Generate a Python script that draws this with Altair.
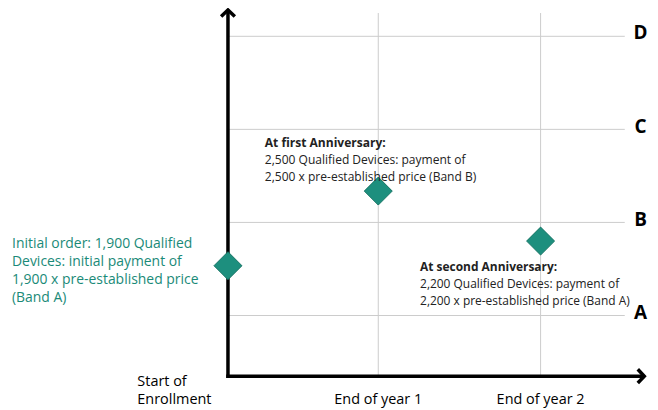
import altair as alt
import pandas as pd

# ---- layout constants (pixel mapping of the diagram) ----
W, H = 645, 402
PX_X, ORIGIN_X = 151.0, 221.0      # px per x-unit, chart-px of x=0
PX_Y, ORIGIN_Y = 93.5, 308.0       # px per band, chart-px of band A (y=1)
x_dom = [-ORIGIN_X / PX_X, (W - ORIGIN_X) / PX_X]
y_dom = [1 - (H - ORIGIN_Y) / PX_Y, 1 + ORIGIN_Y / PX_Y]
X = alt.Scale(domain=x_dom, range=[0, W], nice=False, zero=False)
Y = alt.Scale(domain=y_dom, range=[H, 0], nice=False, zero=False)

# ---- data ----
band_names = ["A", "B", "C", "D"]
band_levels = [1, 2, 3, 4]
time_labels = ["End of year 1", "End of year 2"]
time_positions = [1.0, 2.08]
start_label = ["Start of", "Enrollment"]

point_x = [0.0, 1.0, 2.08]
point_y = [1.535, 2.337, 1.80]

axis_y0 = 0.348      # level of the time axis
axis_x_end = 2.77    # tip of time arrow
axis_y_end = 4.283   # tip of band arrow
grid_x_end = 2.64
grid_y_end = 4.25

ann_teal = ["Initial order: 1,900 Qualified", "Devices: initial payment of",
            "1,900 x pre-established price", "(Band A)"]
ann_first = ["At first Anniversary:", "2,500 Qualified Devices: payment of",
             "2,500 x pre-established price (Band B)"]
ann_second = ["At second Anniversary:", "2,200 Qualified Devices: payment of",
              "2,200 x pre-established price (Band A)"]

TEAL = "#1a8a78"
FONT = "Open Sans"

def xy():
    return dict(x=alt.X("x:Q", scale=X, axis=None), y=alt.Y("y:Q", scale=Y, axis=None))

# gridlines
hgrid = pd.DataFrame({"x": 0.0, "x2": grid_x_end, "y": band_levels})
vgrid = pd.DataFrame({"x": time_positions, "y": axis_y0, "y2": grid_y_end})
hg = alt.Chart(hgrid).mark_rule(color="#cccccc", strokeWidth=1).encode(
    x=alt.X("x:Q", scale=X, axis=None), x2="x2:Q", y=alt.Y("y:Q", scale=Y, axis=None))
vg = alt.Chart(vgrid).mark_rule(color="#cccccc", strokeWidth=1).encode(
    x=alt.X("x:Q", scale=X, axis=None), y=alt.Y("y:Q", scale=Y, axis=None), y2="y2:Q")

# axes
xa = alt.Chart(pd.DataFrame({"x": [0.0], "x2": [axis_x_end - 0.02], "y": [axis_y0]})).mark_rule(
    color="black", strokeWidth=3.5, strokeCap="square").encode(
    x=alt.X("x:Q", scale=X, axis=None), x2="x2:Q", y=alt.Y("y:Q", scale=Y, axis=None))
ya = alt.Chart(pd.DataFrame({"x": [0.0], "y": [axis_y0], "y2": [axis_y_end - 0.03]})).mark_rule(
    color="black", strokeWidth=3.5, strokeCap="square").encode(
    x=alt.X("x:Q", scale=X, axis=None), y=alt.Y("y:Q", scale=Y, axis=None), y2="y2:Q")
arrow_up = alt.Chart(pd.DataFrame({"x": [0.0], "y": [axis_y_end]})).mark_point(
    shape="M-1,0.95L0,0L1,0.95", filled=False, stroke="black", strokeWidth=3.5,
    strokeJoin="miter", size=190, opacity=1).encode(**xy())
arrow_right = alt.Chart(pd.DataFrame({"x": [axis_x_end], "y": [axis_y0]})).mark_point(
    shape="M-0.95,-1L0,0L-0.95,1", filled=False, stroke="black", strokeWidth=3.5,
    strokeJoin="miter", size=190, opacity=1).encode(**xy())

# diamonds
pts = alt.Chart(pd.DataFrame({"x": point_x, "y": point_y})).mark_point(
    shape="diamond", filled=True, fill="#1d8f7e", stroke="#147363", strokeWidth=1,
    size=790, opacity=1).encode(**xy())

# band labels
bl = alt.Chart(pd.DataFrame({"x": 2.745, "y": [b + 0.03 for b in band_levels], "t": band_names})).mark_text(
    font=FONT, fontSize=19, fontWeight="bold", color="black", align="center", baseline="middle").encode(
    text="t:N", **xy())

# time labels
tl = alt.Chart(pd.DataFrame({"x": time_positions, "y": 0.09, "t": time_labels})).mark_text(
    font=FONT, fontSize=14.5, color="black", align="center", baseline="middle").encode(
    text="t:N", **xy())
sl = alt.Chart(pd.DataFrame({"x": -0.603, "y": [0.283, 0.09], "t": start_label})).mark_text(
    font=FONT, fontSize=14.5, color="black", align="left", baseline="middle").encode(
    text="t:N", **xy())

def block(lines, x0, y0, step, color, size, bold_first):
    df = pd.DataFrame({"x": x0, "y": [y0 - i * step for i in range(len(lines))], "t": lines,
                       "w": ["bold" if (bold_first and i == 0) else "normal" for i in range(len(lines))]})
    layers = [alt.Chart(df[df.w == "normal"]).mark_text(
        font=FONT, fontSize=size, color=color, align="left", baseline="middle").encode(text="t:N", **xy())]
    if bold_first:
        layers.append(alt.Chart(df[df.w == "bold"]).mark_text(
            font=FONT, fontSize=size, fontWeight="bold", color=color, align="left",
            baseline="middle").encode(text="t:N", **xy()))
    return layers

teal = block(ann_teal, -1.437, 1.770, 0.1925, TEAL, 14, False)
first = block(ann_first, 0.245, 2.850, 0.182, "#222222", 12.1, True)
second = block(ann_second, 1.278, 1.524, 0.182, "#222222", 12.0, True)

chart = alt.layer(hg, vg, xa, ya, arrow_up, arrow_right, pts, bl, tl, sl, *teal, *first, *second).properties(
    width=W, height=H, autosize=alt.AutoSizeParams(type="none"), padding=0,
).configure_view(stroke=None)

chart.save("out.html", embed_options={"renderer": "svg", "actions": False})
